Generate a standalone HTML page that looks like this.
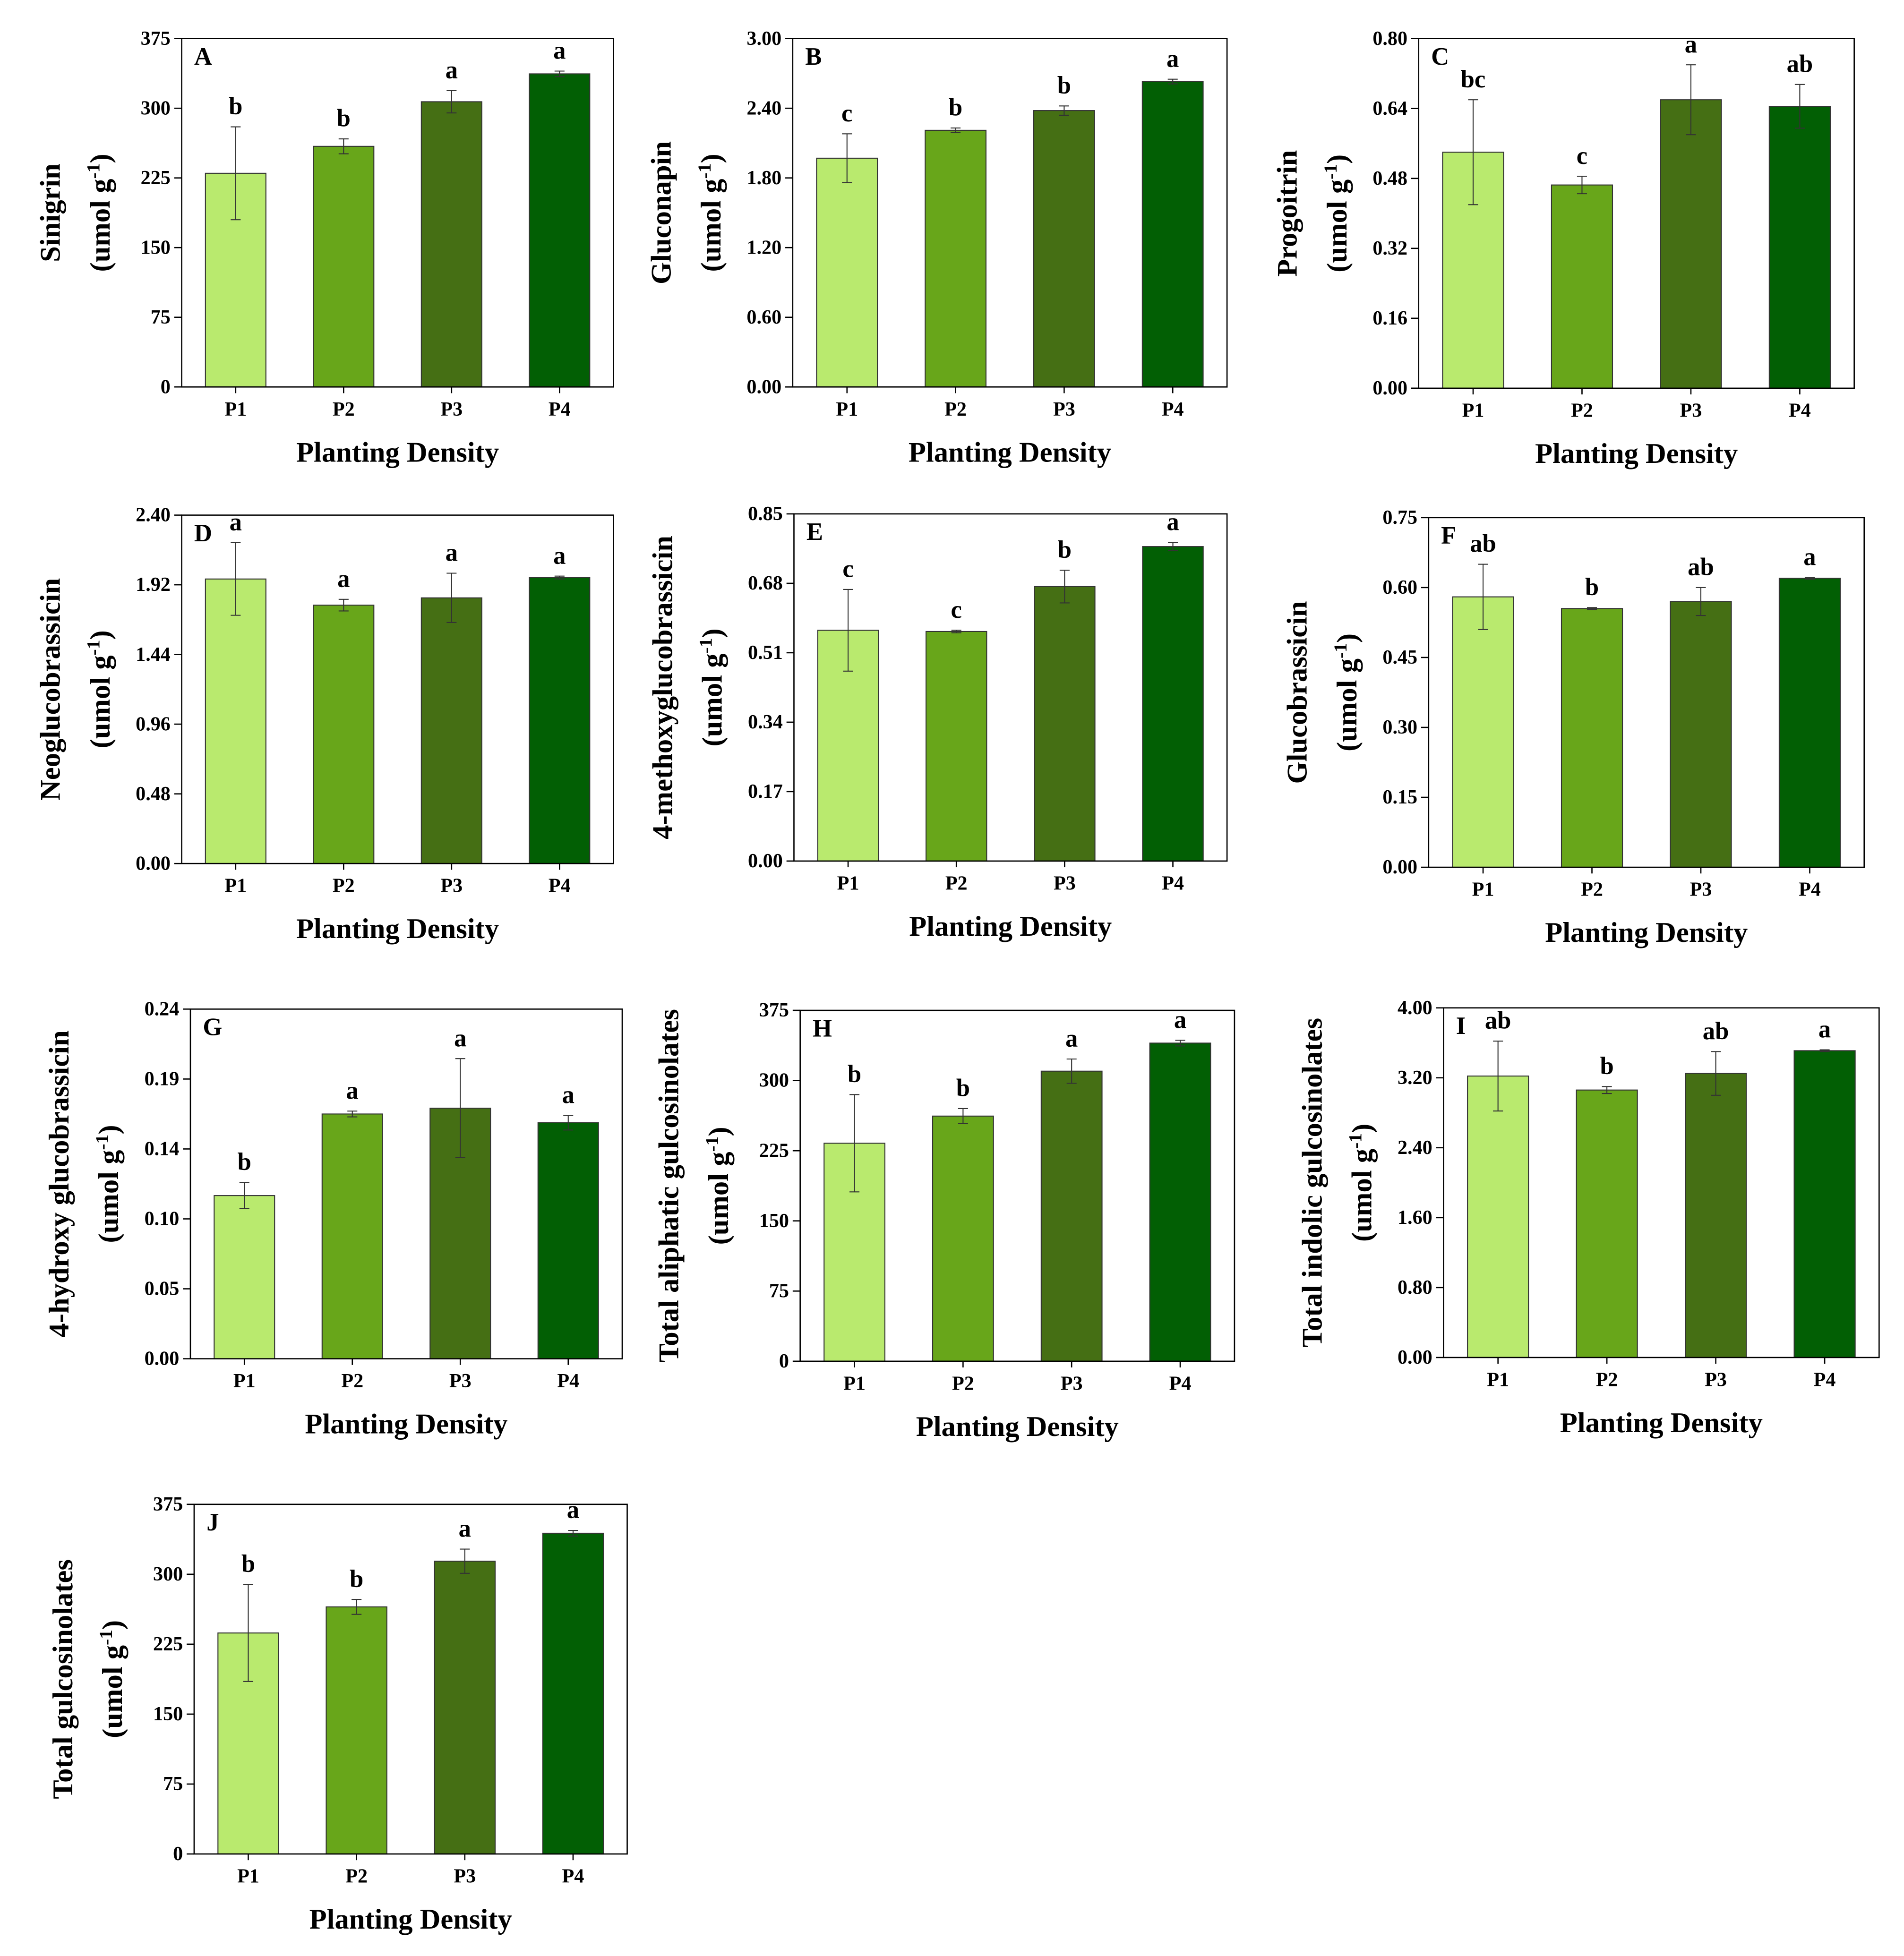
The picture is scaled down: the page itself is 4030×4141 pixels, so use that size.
<!DOCTYPE html>
<html><head><meta charset="utf-8">
<style>
html,body{margin:0;padding:0;background:#fff;}
svg{display:block;}
text{font-family:"Liberation Serif",serif;font-weight:bold;fill:#000;}
</style></head>
<body>
<svg id="fig" width="4030" height="4141" viewBox="0 0 1530 1572" preserveAspectRatio="none" xmlns="http://www.w3.org/2000/svg"></svg>
<script>
const categories = ["P1","P2","P3","P4"];
const panelIds = ["A","B","C","D","E","F","G","H","I","J"];
const yTitles = ["Sinigrin","Gluconapin","Progoitrin","Neoglucobrassicin","4-methoxyglucobrassicin","Glucobrassicin","4-hydroxy glucobrassicin","Total aliphatic gulcosinolates","Total indolic gulcosinolates","Total gulcosinolates"];
const yMax = [375,3.00,0.80,2.40,0.85,0.75,0.24,375,4.00,375];
const tickDecimals = [0,2,2,2,2,2,2,0,2,0];
const valuesA = [230,259,307,337];
const valuesB = [1.97,2.21,2.38,2.63];
const valuesC = [0.54,0.465,0.66,0.645];
const valuesD = [1.96,1.78,1.83,1.97];
const valuesE = [0.565,0.562,0.672,0.77];
const valuesF = [0.58,0.555,0.57,0.62];
const valuesG = [0.112,0.168,0.172,0.162];
const valuesH = [233,262,310,340];
const valuesI = [3.22,3.06,3.25,3.51];
const valuesJ = [237,265,314,344];
const errorsA = [50,8,12,3];
const errorsB = [0.21,0.02,0.04,0.02];
const errorsC = [0.12,0.02,0.08,0.05];
const errorsD = [0.25,0.04,0.17,0.01];
const errorsE = [0.1,0.003,0.04,0.01];
const errorsF = [0.07,0.002,0.03,0.002];
const errorsG = [0.009,0.002,0.034,0.005];
const errorsH = [52,8,13,3];
const errorsI = [0.4,0.04,0.25,0.01];
const errorsJ = [52,8,13,3];
const lettersA = ["b","b","a","a"];
const lettersB = ["c","b","b","a"];
const lettersC = ["bc","c","a","ab"];
const lettersD = ["a","a","a","a"];
const lettersE = ["c","c","b","a"];
const lettersF = ["ab","b","ab","a"];
const lettersG = ["b","a","a","a"];
const lettersH = ["b","b","a","a"];
const lettersI = ["ab","b","ab","a"];
const lettersJ = ["b","b","a","a"];

const allValues=[valuesA,valuesB,valuesC,valuesD,valuesE,valuesF,valuesG,valuesH,valuesI,valuesJ];
const allErrors=[errorsA,errorsB,errorsC,errorsD,errorsE,errorsF,errorsG,errorsH,errorsI,errorsJ];
const allLetters=[lettersA,lettersB,lettersC,lettersD,lettersE,lettersF,lettersG,lettersH,lettersI,lettersJ];
const boxes=[[146,31,493,311],[637,31,986,311],[1140,31,1490,312],[146,414,493,694],[638,413,986,692],[1148,416,1498,697],[153,811,500,1092],[643,812,992,1094],[1160,810,1510,1091],[156,1209,504,1490]];
const colors=["#b9ea6e","#68a61a","#456f14","#025f04"];
const NS="http://www.w3.org/2000/svg";
const svg=document.getElementById("fig");
function mk(tag,attrs,parent){const e=document.createElementNS(NS,tag);for(const k in attrs)e.setAttribute(k,attrs[k]);(parent||svg).appendChild(e);return e;}

boxes.forEach((b,i)=>{
  const [x0,y0,x1,y1]=b;
  const g=mk("g",{});
  
  
  const yS=v=>y1-(v/yMax[i])*(y1-y0);
  const w=x1-x0;
  const xC=k=>x0+w*(0.125+0.25*k);
  const bw=w*0.14;
  for(let t=0;t<=5;t++){
    const v=yMax[i]*t/5, y=yS(v);
    mk("line",{x1:x0-6,y1:y,x2:x0,y2:y,stroke:"#000","stroke-width":1},g);
    const tx=mk("text",{x:x0-9,y:y+5,"text-anchor":"end","font-size":16},g);
    tx.textContent=v.toFixed(tickDecimals[i]);
    
    
  }
  categories.forEach((c,k)=>{
    const v=allValues[i][k], e=allErrors[i][k], cx=xC(k);
    const r=mk("rect",{x:cx-bw/2,y:yS(v),width:bw,height:y1-yS(v),fill:colors[k],stroke:"#333","stroke-width":0.8},g);
    
    
    const yt=yS(v+e), yb=yS(v-e);
    mk("line",{x1:cx,y1:yt,x2:cx,y2:yb,stroke:"#333","stroke-width":0.8},g);
    mk("line",{x1:cx-4,y1:yt,x2:cx+4,y2:yt,stroke:"#333","stroke-width":0.8},g);
    mk("line",{x1:cx-4,y1:yb,x2:cx+4,y2:yb,stroke:"#333","stroke-width":0.8},g);
    const L=mk("text",{x:cx,y:yt-10,"text-anchor":"middle","font-size":20},g);
    L.textContent=allLetters[i][k];
    
    
    mk("line",{x1:cx,y1:y1,x2:cx,y2:y1+5,stroke:"#000","stroke-width":1},g);
    const xl=mk("text",{x:cx,y:y1+23,"text-anchor":"middle","font-size":16},g);
    xl.textContent=c;
    
    
  });
  const fr=mk("rect",{x:x0,y:y0,width:w,height:y1-y0,fill:"none",stroke:"#000","stroke-width":1},g);
  
  
  const pl=mk("text",{x:x0+10,y:y0+21,"font-size":20},g);
  pl.textContent=panelIds[i];
  
  
  const xt=mk("text",{x:(x0+x1)/2,y:y1+60,"text-anchor":"middle","font-size":23},g);
  xt.textContent="Planting Density";
  
  
  const ym=(y0+y1)/2;
  const yt1=mk("text",{x:0,y:0,"text-anchor":"middle","font-size":23,transform:`translate(${x0-98},${ym}) rotate(-90)`},g);
  yt1.textContent=yTitles[i];
  
  
  const yt2=mk("text",{x:0,y:0,"text-anchor":"middle","font-size":23,transform:`translate(${x0-58},${ym}) rotate(-90)`},g);
  
  
  yt2.appendChild(document.createTextNode("(umol g"));
  const sup=mk("tspan",{dy:-8,"font-size":15},yt2); sup.textContent="-1";
  const cl=mk("tspan",{dy:8},yt2); cl.textContent=")";
});
</script>
</body></html>
